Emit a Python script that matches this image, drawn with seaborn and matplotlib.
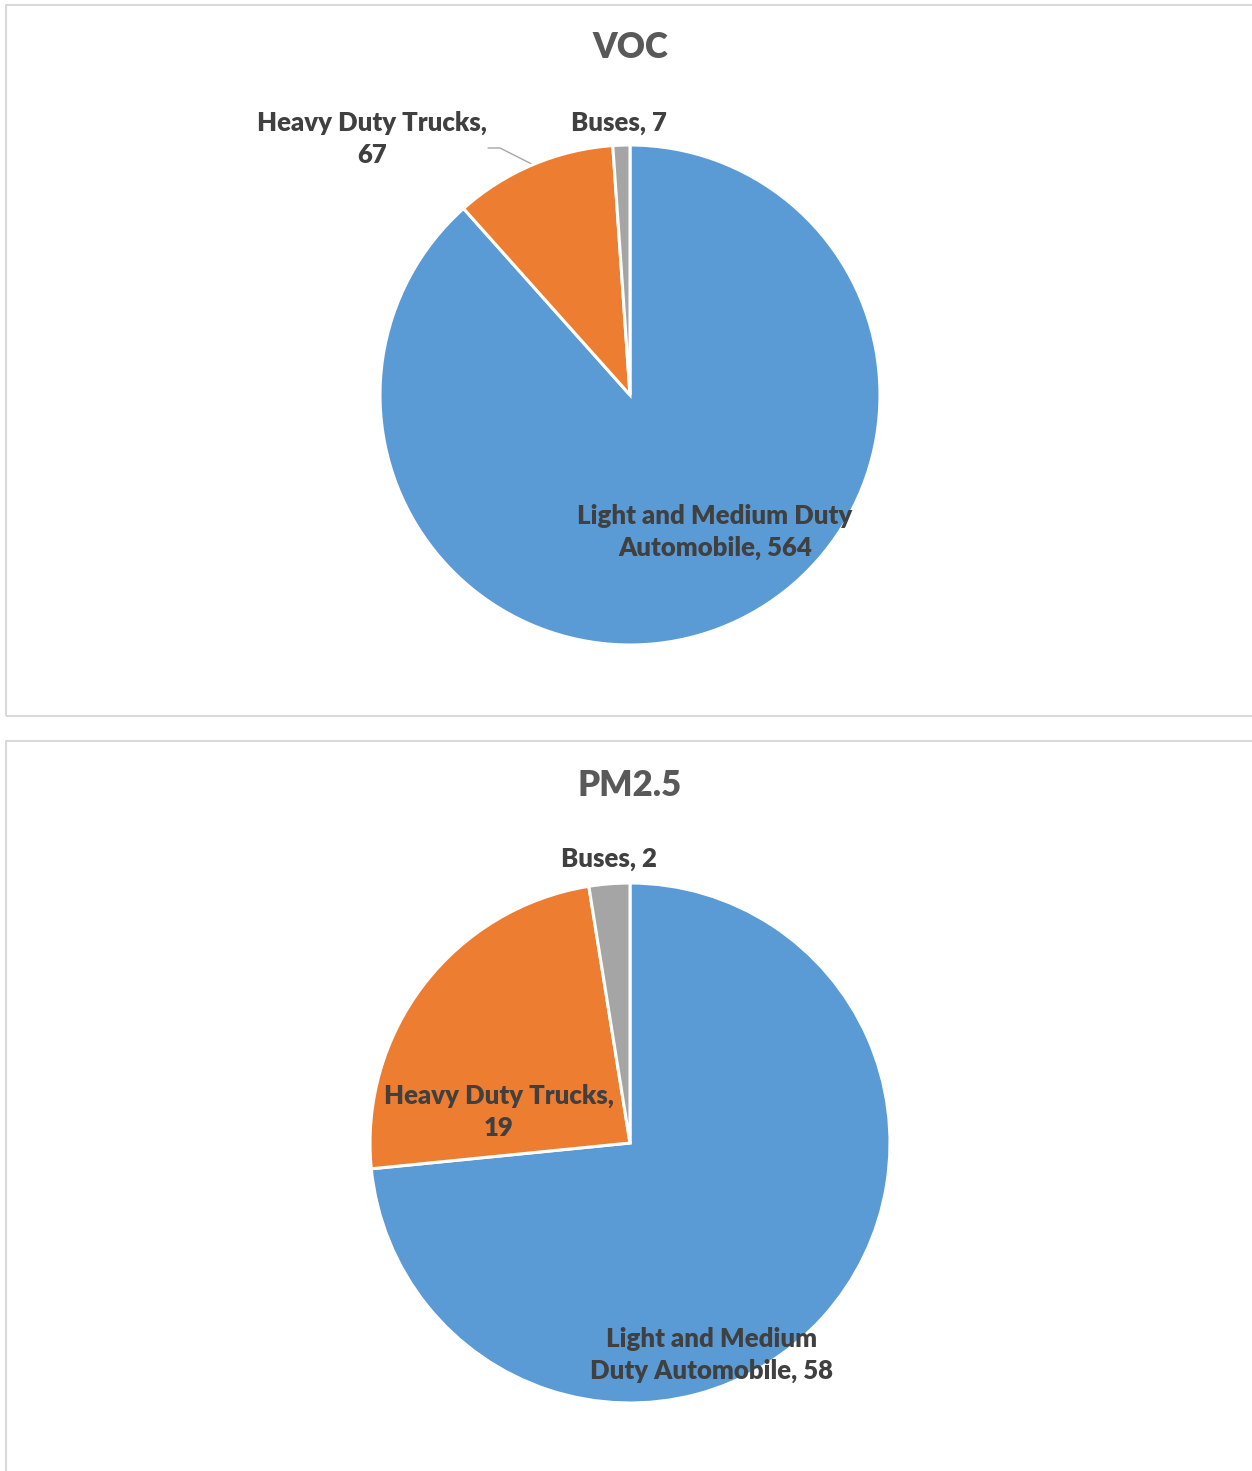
import matplotlib
matplotlib.use("Agg")
import numpy as np
import matplotlib.pyplot as plt
from matplotlib.patches import Rectangle
import seaborn as sns

sns.set_theme(style="white")
plt.rcParams['font.family'] = ['Lato', 'DejaVu Sans']

# ---- data ----
categories = ["Light and Medium Duty Automobile", "Heavy Duty Trucks", "Buses"]
voc_values = [564, 67, 7]
pm25_values = [58, 19, 2]
titles = ["VOC", "PM2.5"]
voc_labels = ["Light and Medium Duty\nAutomobile, 564", "Heavy Duty Trucks,\n67", "Buses, 7"]
pm25_labels = ["Light and Medium\nDuty Automobile, 58", "Heavy Duty Trucks,\n19", "Buses, 2"]
colors = ["#5B9BD5", "#ED7D31", "#A5A5A5"]

W, H = 1252, 1471
fig = plt.figure(figsize=(W / 100, H / 100), dpi=100)
fig.patch.set_facecolor("white")

def fx(px):
    return px / W

def fy(py):
    return 1 - py / H

# panel borders
for top, bottom in [(5, 716), (741, 1490)]:
    fig.patches.append(Rectangle((fx(6), fy(bottom)), fx(1300) - fx(6), fy(top) - fy(bottom),
                                 transform=fig.transFigure, fill=False,
                                 edgecolor="#d9d9d9", linewidth=1.5, zorder=0))

TEXT = "#404040"
S = 1.6

def make_pie(values, labels, cx, cy, R, label_pos, title, title_y, leader=None):
    ax = fig.add_axes([fx(cx - R * S), fy(cy + R * S), 2 * R * S / W, 2 * R * S / H])
    wedges, texts = ax.pie(values, labels=labels, colors=colors, startangle=90,
                           counterclock=False, radius=1.0,
                           wedgeprops=dict(edgecolor="white", linewidth=2.2))
    for t, (x, y) in zip(texts, label_pos):
        t.set_position((x, y))
        t.set_ha("center")
        t.set_va("center")
        t.set_multialignment("center")
        t.set_fontsize(18.5)
        t.set_fontweight(800)
        t.set_color(TEXT)
        t.set_linespacing(1.38)
    if leader is not None:
        w = wedges[1]
        mid = np.deg2rad((w.theta1 + w.theta2) / 2)
        ex, ey = np.cos(mid), np.sin(mid)
        ax.plot([leader[0][0], leader[1][0], ex], [leader[0][1], leader[1][1], ey],
                color="#A6A6A6", linewidth=1.0, zorder=0)
    ax.set_xlim(-S, S)
    ax.set_ylim(-S, S)
    ax.set_aspect("equal")
    ax.axis("off")
    fig.text(fx(cx), fy(title_y), title, ha="center", va="center", fontsize=25,
             fontweight=800, color="#595959")
    return ax

make_pie(voc_values, voc_labels, 630, 395, 250,
         [(0.34, -0.548), (-1.032, 1.024), (-0.044, 1.088)], titles[0], 48,
         leader=[(-0.568, 0.988), (-0.52, 0.988)])
make_pie(pm25_values, pm25_labels, 630, 1143, 260,
         [(0.315, -0.815), (-0.504, 0.119), (-0.081, 1.092)], titles[1], 785)

fig.savefig("out.png", dpi=100, facecolor="white")
